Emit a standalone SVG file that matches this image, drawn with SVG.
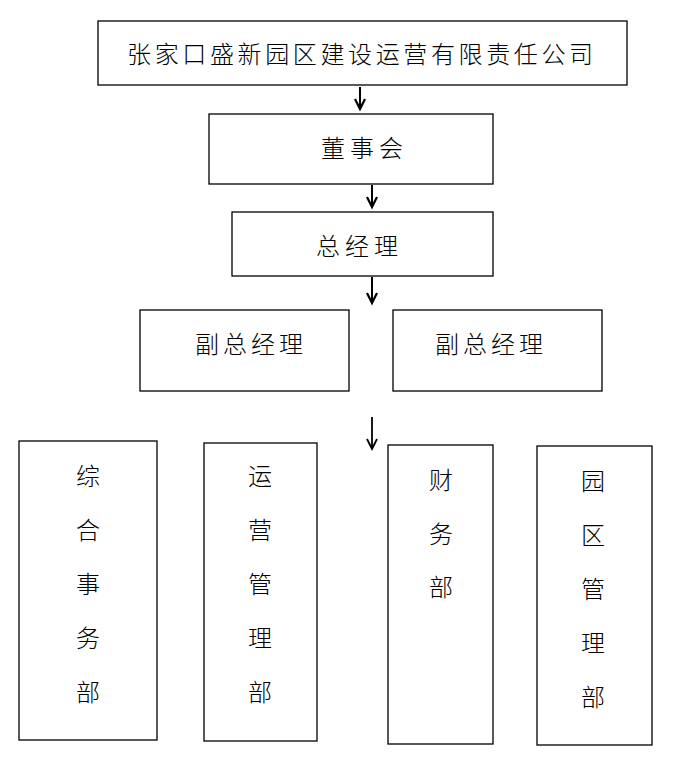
<svg xmlns="http://www.w3.org/2000/svg" width="693" height="758" viewBox="0 0 693 758">
<style>
rect{fill:#fff;stroke:#000;stroke-width:1.3}
text{font-family:"Noto Sans CJK SC","Noto Sans",sans-serif;font-size:24px;fill:#000;text-anchor:middle;font-weight:300}
.c line{stroke:#000;stroke-width:2}
.c polyline{fill:none;stroke:#000;stroke-width:2.2}
</style>
<rect x="0" y="0" width="693" height="758" style="stroke:none"/>
<g id="company"><rect x="98" y="21" width="529" height="64"/><text x="360" y="63" textLength="466" lengthAdjust="spacing">张家口盛新园区建设运营有限责任公司</text></g>
<g id="board"><rect x="209" y="114" width="284" height="70"/><text x="362" y="157" textLength="82" lengthAdjust="spacing">董事会</text></g>
<g id="gm"><rect x="232" y="212" width="261" height="64"/><text x="357" y="255" textLength="82" lengthAdjust="spacing">总经理</text></g>
<g id="vgm1"><rect x="140" y="310" width="209" height="81"/><text x="249" y="353" textLength="108" lengthAdjust="spacing">副总经理</text></g>
<g id="vgm2"><rect x="393" y="310" width="209" height="81"/><text x="489" y="353" textLength="108" lengthAdjust="spacing">副总经理</text></g>
<g id="dept1"><rect x="19" y="441" width="138" height="299"/>
<text x="88" y="485">综</text><text x="88" y="539">合</text><text x="88" y="593">事</text><text x="88" y="647">务</text><text x="88" y="701">部</text></g>
<g id="dept2"><rect x="204" y="443" width="113" height="298"/>
<text x="260" y="485">运</text><text x="260" y="539">营</text><text x="260" y="593">管</text><text x="260" y="647">理</text><text x="260" y="701">部</text></g>
<g id="dept3"><rect x="388" y="445" width="105" height="299"/>
<text x="441" y="489">财</text><text x="441" y="543">务</text><text x="441" y="596">部</text></g>
<g id="dept4"><rect x="537" y="446" width="115" height="299"/>
<text x="593" y="490">园</text><text x="593" y="544">区</text><text x="593" y="598">管</text><text x="593" y="652">理</text><text x="593" y="706">部</text></g>
<g class="c" id="connectors">
<line x1="360" y1="87" x2="360" y2="109"/><polyline points="355,99 360,109 365,99"/>
<line x1="372" y1="185" x2="372" y2="207"/><polyline points="367,197 372,207 377,197"/>
<line x1="372" y1="277" x2="372" y2="303"/><polyline points="367,293 372,303 377,293"/>
<line x1="372" y1="417" x2="372" y2="449" style="stroke-width:1.8"/><polyline points="367,439 372,449 377,439" style="stroke-width:1.8"/>
</g>
</svg>
